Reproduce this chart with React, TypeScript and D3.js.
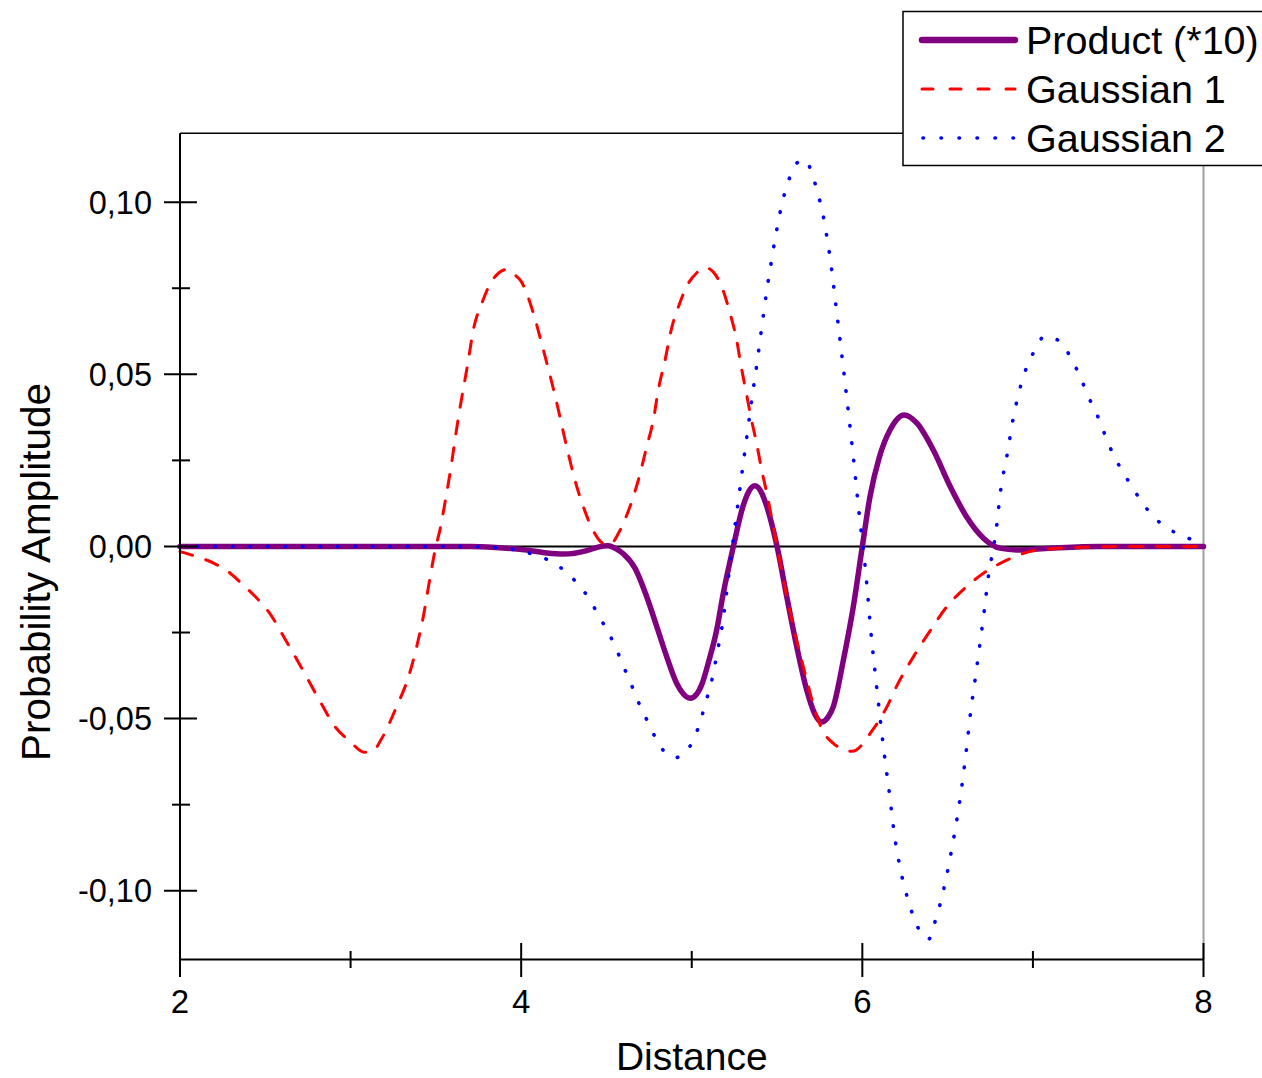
import React from "react";
import * as d3 from "d3";

// ---- data ----
const xTicksMajor = [2, 4, 6, 8];
const xTicksMinor = [3, 5, 7];
const yTicksMajor = [0.1, 0.05, 0, -0.05, -0.1];
const yTicksMinor = [0.075, 0.025, -0.025, -0.075];
const yTickLabels = ["0,10", "0,05", "0,00", "-0,05", "-0,10"];

const seriesNames = ["Product (*10)", "Gaussian 1", "Gaussian 2"];

const productData: [number, number][] = [
  [2.0, 0], [3.0, 0], [3.5, 0], [3.7, 0], [3.85, -0.0003], [4.02, -0.001], [4.15, -0.0019],
  [4.25, -0.0022], [4.385, -0.0012], [4.45, -0.0002], [4.51, 0.0002], [4.56, -0.0008],
  [4.6, -0.0022], [4.667, -0.0063], [4.736, -0.0146], [4.795, -0.0233], [4.853, -0.032],
  [4.912, -0.0398], [4.95, -0.0428], [4.99, -0.0441], [5.03, -0.0428], [5.058, -0.0402],
  [5.1, -0.0333], [5.146, -0.0243], [5.185, -0.0136], [5.244, 0], [5.3, 0.0116],
  [5.335, 0.016], [5.37, 0.0176], [5.405, 0.016], [5.44, 0.0116], [5.5, 0],
  [5.557, -0.0146], [5.615, -0.029], [5.674, -0.0417], [5.72, -0.0485], [5.76, -0.051],
  [5.8, -0.0495], [5.83, -0.0465], [5.889, -0.033], [5.947, -0.0175], [6.0, 0],
  [6.045, 0.0145], [6.1, 0.026], [6.163, 0.0339], [6.245, 0.0382], [6.32, 0.0358],
  [6.416, 0.028], [6.515, 0.0174], [6.61, 0.0087], [6.71, 0.0024], [6.807, -0.0005],
  [6.905, -0.001], [7.1, -0.0005], [7.39, 0], [8.0, 0],
];

const gauss1Data: [number, number][] = [
  [2.0, -0.0015], [2.1, -0.003], [2.2, -0.0049], [2.3, -0.008], [2.37, -0.0112],
  [2.45, -0.015], [2.52, -0.019], [2.625, -0.0277], [2.72, -0.0359], [2.81, -0.044],
  [2.91, -0.0524], [3.0, -0.0568], [3.08, -0.0598], [3.13, -0.0595], [3.18, -0.056],
  [3.27, -0.0465], [3.34, -0.0378], [3.39, -0.0286], [3.43, -0.0194], [3.46, -0.0107],
  [3.5, 0], [3.524, 0.0048], [3.553, 0.0126], [3.583, 0.0213], [3.63, 0.0368],
  [3.69, 0.054], [3.72, 0.063], [3.77, 0.0707], [3.81, 0.0755], [3.87, 0.0795],
  [3.92, 0.0805], [3.96, 0.079], [4.0, 0.077], [4.07, 0.068], [4.12, 0.059],
  [4.2, 0.0435], [4.276, 0.027], [4.315, 0.0193], [4.364, 0.0116], [4.42, 0.0048],
  [4.48, 0.0009], [4.52, 0.0005], [4.57, 0.0038], [4.638, 0.0116], [4.687, 0.0193],
  [4.736, 0.029], [4.775, 0.0368], [4.804, 0.0455], [4.843, 0.054], [4.88, 0.063],
  [4.93, 0.0707], [4.97, 0.0755], [5.03, 0.0795], [5.08, 0.081], [5.13, 0.0795],
  [5.175, 0.0755], [5.224, 0.0678], [5.263, 0.06], [5.29, 0.0522], [5.32, 0.0445],
  [5.35, 0.0368], [5.38, 0.03], [5.41, 0.0222], [5.44, 0.0155], [5.478, 0.0058],
  [5.5, 0], [5.557, -0.0146], [5.615, -0.0272], [5.674, -0.0388], [5.733, -0.0494],
  [5.78, -0.0545], [5.83, -0.0572], [5.89, -0.059], [5.94, -0.0595], [6.005, -0.0572],
  [6.05, -0.054], [6.1, -0.0504], [6.15, -0.046], [6.2, -0.0407], [6.3, -0.032],
  [6.4, -0.0243], [6.495, -0.0175], [6.59, -0.0126], [6.71, -0.0078], [6.85, -0.0039],
  [6.98, -0.0015], [7.08, -0.0008], [7.2, -0.0004], [7.4, -0.0001], [7.6, 0], [8.0, 0],
];

const gauss2Data: [number, number][] = [
  [2.0, 0], [3.0, 0], [3.6, 0], [3.8, -0.0002], [3.92, -0.0006], [4.02, -0.0016],
  [4.12, -0.0031], [4.228, -0.006], [4.325, -0.0105], [4.4, -0.0153], [4.46, -0.0206],
  [4.517, -0.0255], [4.564, -0.0305], [4.605, -0.0354], [4.648, -0.0404], [4.69, -0.0455],
  [4.737, -0.0504], [4.786, -0.0554], [4.853, -0.0603], [4.905, -0.0613], [4.955, -0.0603],
  [5.013, -0.0557], [5.052, -0.0506], [5.08, -0.0455], [5.11, -0.0405], [5.132, -0.0354],
  [5.15, -0.0306], [5.177, -0.0235], [5.2, -0.015], [5.225, -0.005], [5.238, 0],
  [5.271, 0.0125], [5.3, 0.0235], [5.33, 0.0345], [5.353, 0.043], [5.383, 0.0535],
  [5.41, 0.0635], [5.44, 0.0745], [5.472, 0.0844], [5.488, 0.0893], [5.508, 0.0944],
  [5.527, 0.0993], [5.557, 0.1044], [5.59, 0.1094], [5.625, 0.1117], [5.664, 0.1123],
  [5.713, 0.107], [5.742, 0.102], [5.767, 0.097], [5.785, 0.092], [5.802, 0.0869],
  [5.816, 0.0819], [5.85, 0.068], [5.9, 0.047], [5.945, 0.027], [5.987, 0.007],
  [6.004, 0], [6.03, -0.013], [6.045, -0.022], [6.078, -0.038], [6.1, -0.048],
  [6.133, -0.062], [6.162, -0.073], [6.186, -0.083], [6.22, -0.093], [6.27, -0.103],
  [6.32, -0.11], [6.36, -0.1135], [6.39, -0.114], [6.426, -0.109], [6.48, -0.099],
  [6.52, -0.089], [6.555, -0.079], [6.585, -0.069], [6.61, -0.059], [6.635, -0.048],
  [6.663, -0.038], [6.69, -0.028], [6.715, -0.0185], [6.74, -0.0083], [6.77, 0],
  [6.785, 0.005], [6.81, 0.016], [6.85, 0.027], [6.88, 0.036], [6.93, 0.047],
  [7.0, 0.056], [7.07, 0.061], [7.12, 0.0605], [7.17, 0.059], [7.23, 0.054],
  [7.28, 0.049], [7.32, 0.044], [7.37, 0.039], [7.41, 0.034], [7.45, 0.029],
  [7.5, 0.024], [7.56, 0.019], [7.62, 0.0143], [7.7, 0.009], [7.8, 0.005],
  [7.9, 0.0026], [8.0, 0.001],
];

const W = 1262;
const H = 1078;
const FONT = "'Liberation Sans', Arial, sans-serif";

export default function App() {
  const left = 180;
  const right = 1203.5;
  const top = 133.3;
  const bottom = 959.6;

  const x = d3.scaleLinear().domain([2, 8]).range([left, right]);
  const y = d3.scaleLinear().domain([-0.12, 0.12]).range([bottom, top]);

  const line = d3
    .line<[number, number]>()
    .x((d) => x(d[0]))
    .y((d) => y(d[1]))
    .curve(d3.curveMonotoneX);

  const purple = "#800080";
  const red = "#ff0000";
  const blue = "#0000ff";

  const legendX = 903;
  const legendY = 11.5;
  const legendRows = [40, 89, 138];

  return (
    <svg
      width={W}
      height={H}
      style={{ position: "absolute", left: 0, top: 0, background: "#fff" }}
      fontFamily={FONT}
    >
      <rect x={0} y={0} width={W} height={H} fill="#fff" />

      {/* plot frame: top (black) and right (gray) */}
      <line x1={left} x2={right} y1={top} y2={top} stroke="#000" strokeWidth={1.5} />
      <line x1={right} x2={right} y1={top} y2={bottom} stroke="#a0a0a0" strokeWidth={2} />

      {/* zero line */}
      <line x1={left} x2={right} y1={y(0)} y2={y(0)} stroke="#000" strokeWidth={2} />

      {/* series */}
      <path d={line(productData) || ""} fill="none" stroke={purple} strokeWidth={5.5} strokeLinejoin="round" strokeLinecap="round" />
      <path d={line(gauss1Data) || ""} fill="none" stroke={red} strokeWidth={3} strokeDasharray="13,14" strokeLinecap="round" />
      <path d={line(gauss2Data) || ""} fill="none" stroke={blue} strokeWidth={3.6} strokeDasharray="0.5,17" strokeLinecap="round" />

      {/* axes */}
      <line x1={left} x2={left} y1={top} y2={bottom} stroke="#000" strokeWidth={2} />
      <line x1={left} x2={right} y1={bottom} y2={bottom} stroke="#000" strokeWidth={2} />

      {yTicksMajor.map((t, i) => (
        <g key={"ym" + i}>
          <line x1={164} x2={197} y1={y(t)} y2={y(t)} stroke="#000" strokeWidth={2} />
          <text x={152} y={y(t) + 11.5} textAnchor="end" fontSize={32.5} fill="#000">
            {yTickLabels[i]}
          </text>
        </g>
      ))}
      {yTicksMinor.map((t, i) => (
        <line key={"yn" + i} x1={172} x2={190} y1={y(t)} y2={y(t)} stroke="#000" strokeWidth={2} />
      ))}

      {xTicksMajor.map((t, i) => (
        <g key={"xm" + i}>
          <line x1={x(t)} x2={x(t)} y1={943} y2={977} stroke="#000" strokeWidth={2} />
          <text x={x(t)} y={1013} textAnchor="middle" fontSize={33} fill="#000">
            {String(t)}
          </text>
        </g>
      ))}
      {xTicksMinor.map((t, i) => (
        <line key={"xn" + i} x1={x(t)} x2={x(t)} y1={951} y2={968} stroke="#000" strokeWidth={2} />
      ))}

      {/* axis titles */}
      <text x={(left + right) / 2} y={1070} textAnchor="middle" fontSize={39} fill="#000">
        Distance
      </text>
      <text
        transform={`translate(50, 572) rotate(-90)`}
        x={0}
        y={0}
        textAnchor="middle"
        fontSize={40.5}
        fill="#000"
      >
        Probability Amplitude
      </text>

      {/* legend */}
      <rect x={legendX} y={legendY} width={W - legendX + 10} height={154} fill="#fff" stroke="#000" strokeWidth={1.5} />
      <line x1={922} x2={1015} y1={legendRows[0]} y2={legendRows[0]} stroke={purple} strokeWidth={6.5} strokeLinecap="round" />
      <line x1={922} x2={1015} y1={legendRows[1]} y2={legendRows[1]} stroke={red} strokeWidth={3} strokeDasharray="11,17" strokeLinecap="round" />
      <line x1={923} x2={1015} y1={legendRows[2]} y2={legendRows[2]} stroke={blue} strokeWidth={3.6} strokeDasharray="0.5,17.5" strokeLinecap="round" />
      {seriesNames.map((n, i) => (
        <text key={n} x={1026} y={legendRows[i] + 13.5} fontSize={39.5} fill="#000">
          {n}
        </text>
      ))}
    </svg>
  );
}
